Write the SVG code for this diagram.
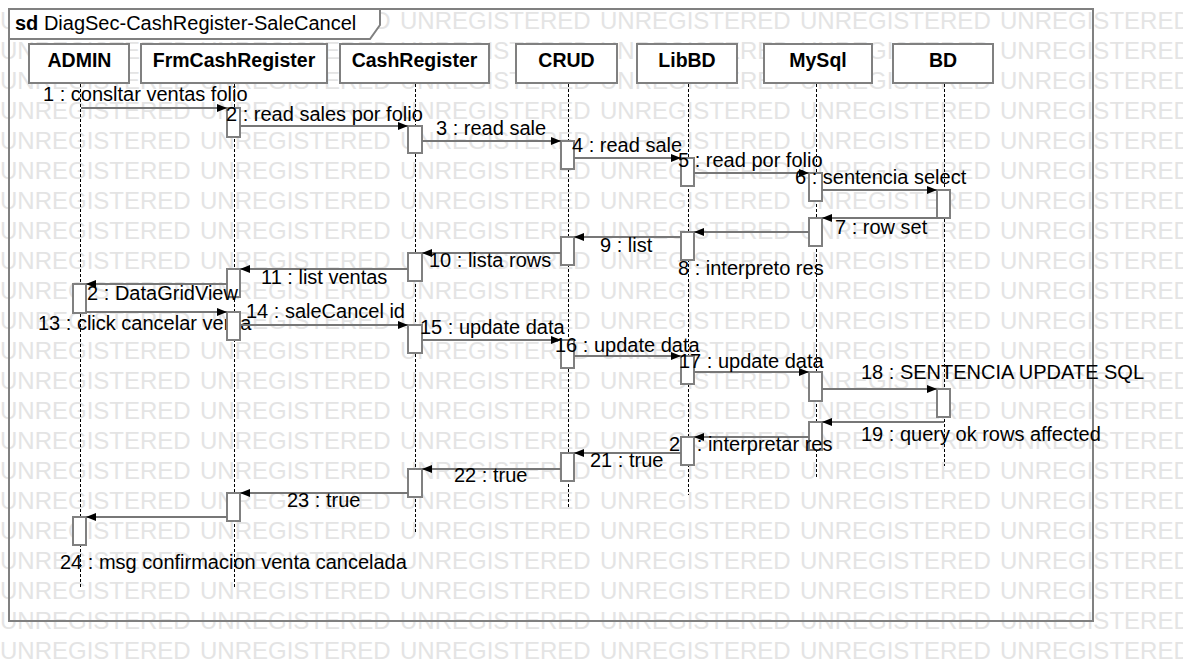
<svg xmlns="http://www.w3.org/2000/svg" width="1183" height="661" viewBox="0 0 1183 661">
<style>
.wm{font-family:"Liberation Sans",Arial,sans-serif;font-size:24px;fill:#e4e4e4;word-spacing:2.65px}
.frame{fill:none;stroke:#808080;stroke-width:2}
.tab{fill:#fff;stroke:#808080;stroke-width:2}
.title{font-family:"Liberation Sans",Arial,sans-serif;font-size:20px;fill:#000}
.head{fill:#fff;stroke:#808080;stroke-width:2}
.hl{font-family:"Liberation Sans",Arial,sans-serif;font-size:19.5px;font-weight:bold;fill:#000;text-anchor:middle}
.life{stroke:#000;stroke-width:1;stroke-dasharray:3,2;fill:none}
.act{fill:#fff;stroke:#808080;stroke-width:2}
.msg{stroke:#777;stroke-width:2;fill:none;marker-end:url(#arr)}
.lbl{font-family:"Liberation Sans",Arial,sans-serif;font-size:20px;fill:#000}
</style>
<defs>
<marker id="arr" markerUnits="userSpaceOnUse" markerWidth="10" markerHeight="8" refX="10" refY="4" orient="auto">
<path d="M0,0 L10,4 L0,8 Z" fill="#000"/>
</marker>
<clipPath id="c12" clipPathUnits="userSpaceOnUse"><path clip-rule="evenodd" d="M0,0H1183V661H0Z M72,283V314H87V283Z"/></clipPath>
<clipPath id="c13" clipPathUnits="userSpaceOnUse"><path clip-rule="evenodd" d="M0,0H1183V661H0Z M226,311V341H241V311Z"/></clipPath>
<clipPath id="c20" clipPathUnits="userSpaceOnUse"><path clip-rule="evenodd" d="M0,0H1183V661H0Z M680,436V466H695V436Z"/></clipPath>
</defs>
<rect x="0" y="0" width="1183" height="661" fill="#fff"/>
<g id="watermark">
<text class="wm" x="0" y="29">UNREGISTERED UNREGISTERED UNREGISTERED UNREGISTERED UNREGISTERED UNREGISTERED</text>
<text class="wm" x="0" y="59">UNREGISTERED UNREGISTERED UNREGISTERED UNREGISTERED UNREGISTERED UNREGISTERED</text>
<text class="wm" x="0" y="89">UNREGISTERED UNREGISTERED UNREGISTERED UNREGISTERED UNREGISTERED UNREGISTERED</text>
<text class="wm" x="0" y="119">UNREGISTERED UNREGISTERED UNREGISTERED UNREGISTERED UNREGISTERED UNREGISTERED</text>
<text class="wm" x="0" y="149">UNREGISTERED UNREGISTERED UNREGISTERED UNREGISTERED UNREGISTERED UNREGISTERED</text>
<text class="wm" x="0" y="179">UNREGISTERED UNREGISTERED UNREGISTERED UNREGISTERED UNREGISTERED UNREGISTERED</text>
<text class="wm" x="0" y="209">UNREGISTERED UNREGISTERED UNREGISTERED UNREGISTERED UNREGISTERED UNREGISTERED</text>
<text class="wm" x="0" y="239">UNREGISTERED UNREGISTERED UNREGISTERED UNREGISTERED UNREGISTERED UNREGISTERED</text>
<text class="wm" x="0" y="269">UNREGISTERED UNREGISTERED UNREGISTERED UNREGISTERED UNREGISTERED UNREGISTERED</text>
<text class="wm" x="0" y="299">UNREGISTERED UNREGISTERED UNREGISTERED UNREGISTERED UNREGISTERED UNREGISTERED</text>
<text class="wm" x="0" y="329">UNREGISTERED UNREGISTERED UNREGISTERED UNREGISTERED UNREGISTERED UNREGISTERED</text>
<text class="wm" x="0" y="359">UNREGISTERED UNREGISTERED UNREGISTERED UNREGISTERED UNREGISTERED UNREGISTERED</text>
<text class="wm" x="0" y="389">UNREGISTERED UNREGISTERED UNREGISTERED UNREGISTERED UNREGISTERED UNREGISTERED</text>
<text class="wm" x="0" y="419">UNREGISTERED UNREGISTERED UNREGISTERED UNREGISTERED UNREGISTERED UNREGISTERED</text>
<text class="wm" x="0" y="449">UNREGISTERED UNREGISTERED UNREGISTERED UNREGISTERED UNREGISTERED UNREGISTERED</text>
<text class="wm" x="0" y="479">UNREGISTERED UNREGISTERED UNREGISTERED UNREGISTERED UNREGISTERED UNREGISTERED</text>
<text class="wm" x="0" y="509">UNREGISTERED UNREGISTERED UNREGISTERED UNREGISTERED UNREGISTERED UNREGISTERED</text>
<text class="wm" x="0" y="539">UNREGISTERED UNREGISTERED UNREGISTERED UNREGISTERED UNREGISTERED UNREGISTERED</text>
<text class="wm" x="0" y="569">UNREGISTERED UNREGISTERED UNREGISTERED UNREGISTERED UNREGISTERED UNREGISTERED</text>
<text class="wm" x="0" y="599">UNREGISTERED UNREGISTERED UNREGISTERED UNREGISTERED UNREGISTERED UNREGISTERED</text>
<text class="wm" x="0" y="629">UNREGISTERED UNREGISTERED UNREGISTERED UNREGISTERED UNREGISTERED UNREGISTERED</text>
<text class="wm" x="0" y="659">UNREGISTERED UNREGISTERED UNREGISTERED UNREGISTERED UNREGISTERED UNREGISTERED</text>
</g>
<g id="frame">
<rect class="frame" x="9" y="9" width="1084" height="612"/>
<path class="tab" d="M9,9 H380 V25 L370,39 H9 Z"/>
<text class="title" x="15" y="30"><tspan font-weight="bold">sd</tspan> DiagSec-CashRegister-SaleCancel</text>
</g>
<g id="ADMIN">
<rect class="head" x="29" y="44" width="100" height="39"/>
<text class="hl" x="79.5" y="67">ADMIN</text>
<line class="life" x1="80.5" y1="84" x2="80.5" y2="587"/>
<rect class="act" x="73" y="284" width="13" height="29"/>
<rect class="act" x="73" y="517" width="13" height="28"/>
</g>
<g id="FrmCashRegister">
<rect class="head" x="141" y="44" width="186" height="39"/>
<text class="hl" x="234" y="67">FrmCashRegister</text>
<line class="life" x1="234.5" y1="84" x2="234.5" y2="587"/>
<rect class="act" x="227" y="108" width="13" height="29"/>
<rect class="act" x="227" y="269" width="13" height="28"/>
<rect class="act" x="227" y="312" width="13" height="28"/>
<rect class="act" x="227" y="493" width="13" height="28"/>
</g>
<g id="CashRegister">
<rect class="head" x="340" y="44" width="149" height="39"/>
<text class="hl" x="414.5" y="67">CashRegister</text>
<line class="life" x1="415.5" y1="84" x2="415.5" y2="532"/>
<rect class="act" x="408" y="126" width="14" height="27"/>
<rect class="act" x="408" y="253" width="14" height="28"/>
<rect class="act" x="408" y="325" width="14" height="28"/>
<rect class="act" x="408" y="469" width="14" height="28"/>
</g>
<g id="CRUD">
<rect class="head" x="516" y="44" width="101" height="39"/>
<text class="hl" x="566.5" y="67">CRUD</text>
<line class="life" x1="568.5" y1="84" x2="568.5" y2="507"/>
<rect class="act" x="561" y="141" width="13" height="28"/>
<rect class="act" x="561" y="237" width="13" height="28"/>
<rect class="act" x="561" y="340" width="13" height="28"/>
<rect class="act" x="561" y="453" width="13" height="28"/>
</g>
<g id="LibBD">
<rect class="head" x="637" y="44" width="100" height="39"/>
<text class="hl" x="687" y="67">LibBD</text>
<line class="life" x1="688.5" y1="84" x2="688.5" y2="495"/>
<rect class="act" x="681" y="158" width="13" height="28"/>
<rect class="act" x="681" y="232" width="13" height="28"/>
<rect class="act" x="681" y="356" width="13" height="28"/>
<rect class="act" x="681" y="437" width="13" height="28"/>
</g>
<g id="MySql">
<rect class="head" x="764" y="44" width="108" height="39"/>
<text class="hl" x="818" y="67">MySql</text>
<line class="life" x1="816.5" y1="84" x2="816.5" y2="477"/>
<rect class="act" x="809" y="173" width="13" height="28"/>
<rect class="act" x="809" y="218" width="13" height="28"/>
<rect class="act" x="809" y="372" width="13" height="29"/>
<rect class="act" x="809" y="422" width="13" height="28"/>
</g>
<g id="BD">
<rect class="head" x="893" y="44" width="100" height="39"/>
<text class="hl" x="943" y="67">BD</text>
<line class="life" x1="944.5" y1="84" x2="944.5" y2="466"/>
<rect class="act" x="937" y="190" width="13" height="28"/>
<rect class="act" x="937" y="389" width="13" height="28"/>
</g>
<g id="connectors">
<line class="msg" x1="81" y1="108" x2="227" y2="108"/>
<text class="lbl" x="43" y="101">1 : consltar ventas folio</text>
<line class="msg" x1="240" y1="126" x2="408" y2="126"/>
<text class="lbl" x="226" y="121">2 : read sales por folio</text>
<line class="msg" x1="422" y1="141" x2="561" y2="141"/>
<text class="lbl" x="436" y="135">3 : read sale</text>
<line class="msg" x1="574" y1="158" x2="681" y2="158"/>
<text class="lbl" x="572" y="152">4 : read sale</text>
<line class="msg" x1="694" y1="173" x2="809" y2="173"/>
<text class="lbl" x="678" y="167">5 : read por folio</text>
<line class="msg" x1="822" y1="190" x2="937" y2="190"/>
<text class="lbl" x="795" y="184">6 : sentencia select</text>
<line class="msg" x1="944" y1="218" x2="822" y2="218"/>
<text class="lbl" x="835" y="234">7 : row set</text>
<line class="msg" x1="809" y1="232" x2="694" y2="232"/>
<text class="lbl" x="678" y="275">8 : interpreto res</text>
<line class="msg" x1="681" y1="237" x2="574" y2="237"/>
<text class="lbl" x="600" y="252">9 : list</text>
<line class="msg" x1="561" y1="253" x2="422" y2="253"/>
<text class="lbl" x="429" y="267">10 : lista rows</text>
<line class="msg" x1="408" y1="269" x2="240" y2="269"/>
<text class="lbl" x="261" y="284">11 : list ventas</text>
<line class="msg" x1="227" y1="284" x2="86" y2="284"/>
<text class="lbl" x="76" y="300" clip-path="url(#c12)">12 : DataGridView</text>
<line class="msg" x1="86" y1="312" x2="227" y2="312"/>
<text class="lbl" x="38" y="330" clip-path="url(#c13)">13 : click cancelar venta</text>
<line class="msg" x1="240" y1="325" x2="408" y2="325"/>
<text class="lbl" x="246" y="318">14 : saleCancel id</text>
<line class="msg" x1="422" y1="340" x2="561" y2="340"/>
<text class="lbl" x="420" y="334">15 : update data</text>
<line class="msg" x1="574" y1="356" x2="681" y2="356"/>
<text class="lbl" x="555" y="352">16 : update data</text>
<line class="msg" x1="694" y1="372" x2="809" y2="372"/>
<text class="lbl" x="679" y="368">17 : update data</text>
<line class="msg" x1="822" y1="389" x2="937" y2="389"/>
<text class="lbl" x="861" y="379">18 : SENTENCIA UPDATE SQL</text>
<line class="msg" x1="944" y1="422" x2="822" y2="422"/>
<text class="lbl" x="861" y="441">19 : query ok rows affected</text>
<line class="msg" x1="809" y1="437" x2="694" y2="437"/>
<text class="lbl" x="669" y="451" clip-path="url(#c20)">20 : interpretar res</text>
<line class="msg" x1="681" y1="453" x2="574" y2="453"/>
<text class="lbl" x="590" y="467">21 : true</text>
<line class="msg" x1="561" y1="469" x2="422" y2="469"/>
<text class="lbl" x="454" y="482">22 : true</text>
<line class="msg" x1="408" y1="493" x2="240" y2="493"/>
<text class="lbl" x="287" y="507">23 : true</text>
<line class="msg" x1="227" y1="517" x2="86" y2="517"/>
<text class="lbl" x="60" y="569">24 : msg confirmacion venta cancelada</text>
</g>
</svg>
